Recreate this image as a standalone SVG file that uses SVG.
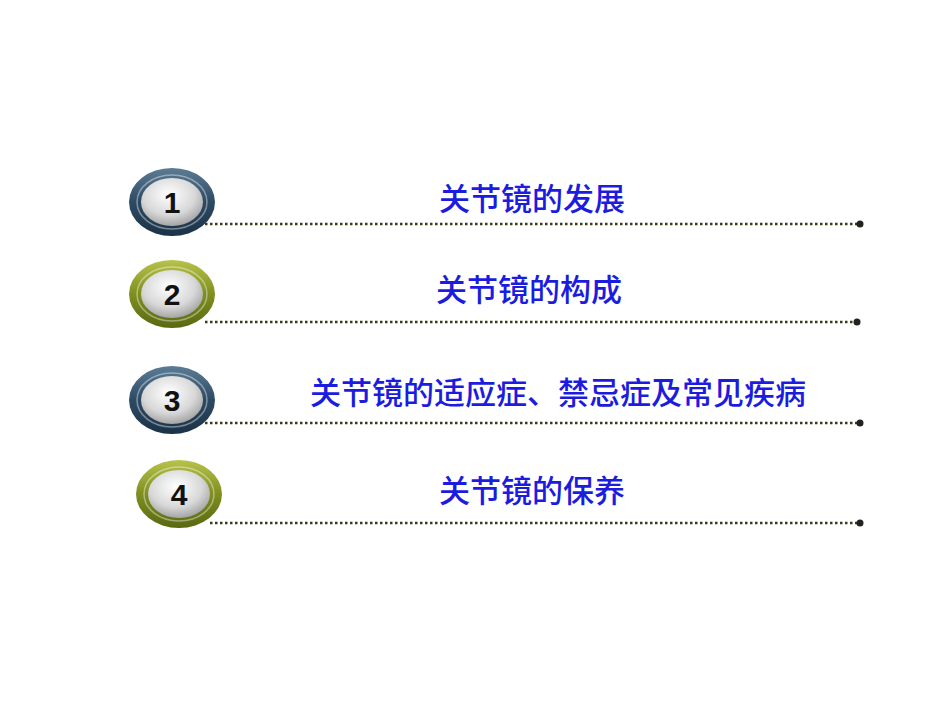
<svg xmlns="http://www.w3.org/2000/svg" width="950" height="713" viewBox="0 0 950 713">
<defs>
<linearGradient id="blue" x1="0" y1="0" x2="0" y2="1"><stop offset="0" stop-color="#5c7c95"/><stop offset="0.5" stop-color="#2d4a63"/><stop offset="1" stop-color="#1b3247"/></linearGradient>
<linearGradient id="green" x1="0" y1="0" x2="0" y2="1"><stop offset="0" stop-color="#b7c24a"/><stop offset="0.5" stop-color="#7f8f1f"/><stop offset="1" stop-color="#5a6812"/></linearGradient>
<radialGradient id="grey" cx="0.45" cy="0.35" r="0.7"><stop offset="0" stop-color="#ffffff"/><stop offset="0.6" stop-color="#d8d8d8"/><stop offset="1" stop-color="#9a9a9a"/></radialGradient>
</defs>
<style>
.t{font-family:"Liberation Sans","Noto Sans CJK SC",sans-serif;font-size:31px;font-weight:500;fill:#1c1ce0;text-anchor:middle}
.n{font-family:"Liberation Sans",sans-serif;font-size:30px;font-weight:bold;fill:#111;text-anchor:middle}
.d{stroke:#3a3a1a;stroke-width:2.5;stroke-dasharray:2.5 2.5;fill:none}
.ring{stroke:#ffffff;stroke-opacity:0.4;stroke-width:1.5}
</style>
<g id="connectors">
<line class="d" x1="205" y1="224" x2="857" y2="224"/><circle cx="860" cy="224" r="3.5" fill="#222"/>
<line class="d" x1="205" y1="322" x2="854" y2="322"/><circle cx="857" cy="322" r="3.5" fill="#222"/>
<line class="d" x1="205" y1="423" x2="857" y2="423"/><circle cx="860" cy="423" r="3.5" fill="#222"/>
<line class="d" x1="210" y1="523" x2="857" y2="523"/><circle cx="860" cy="523" r="3.5" fill="#222"/>
</g>
<g id="node1"><ellipse cx="172" cy="202" rx="43" ry="34" fill="url(#blue)"/><ellipse class="ring" cx="172" cy="202" rx="35" ry="27" fill="none"/><ellipse cx="172" cy="202" rx="31" ry="24" fill="url(#grey)"/><text class="n" x="172" y="213">1</text><text class="t" x="532" y="210">关节镜的发展</text></g>
<g id="node2"><ellipse cx="172" cy="294" rx="43" ry="34" fill="url(#green)"/><ellipse class="ring" cx="172" cy="294" rx="35" ry="27" fill="none"/><ellipse cx="172" cy="294" rx="31" ry="24" fill="url(#grey)"/><text class="n" x="172" y="305">2</text><text class="t" x="529" y="301">关节镜的构成</text></g>
<g id="node3"><ellipse cx="172" cy="400" rx="43" ry="34" fill="url(#blue)"/><ellipse class="ring" cx="172" cy="400" rx="35" ry="27" fill="none"/><ellipse cx="172" cy="400" rx="31" ry="24" fill="url(#grey)"/><text class="n" x="172" y="411">3</text><text class="t" x="558" y="404">关节镜的适应症、禁忌症及常见疾病</text></g>
<g id="node4"><ellipse cx="179" cy="494" rx="43" ry="34" fill="url(#green)"/><ellipse class="ring" cx="179" cy="494" rx="35" ry="27" fill="none"/><ellipse cx="179" cy="494" rx="31" ry="24" fill="url(#grey)"/><text class="n" x="179" y="505">4</text><text class="t" x="532" y="502">关节镜的保养</text></g>
</svg>
